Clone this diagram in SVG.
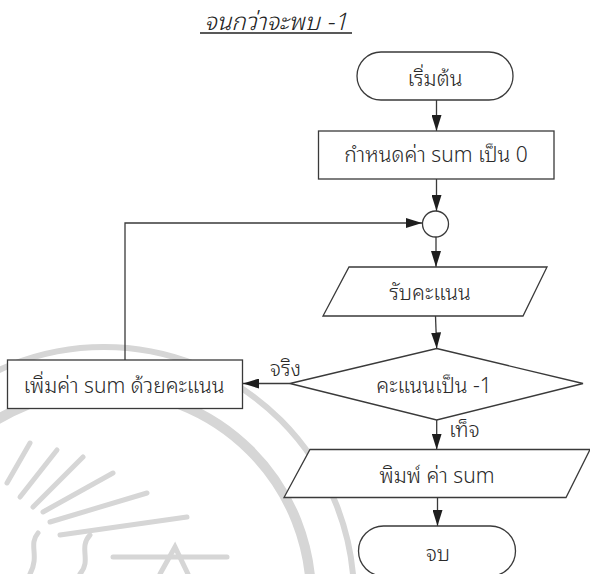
<svg xmlns="http://www.w3.org/2000/svg" width="590" height="574" viewBox="0 0 590 574">
  <style>
    .shape { fill: #ffffff; stroke: #3a3a3a; stroke-width: 1.3; }
    .edge { fill: none; stroke: #3a3a3a; stroke-width: 1.3; }
    .lbl { font-family: 'Noto Sans Thai Looped', 'Noto Sans Thai', 'Noto Sans', sans-serif; font-size: 21px; font-weight: 300; fill: #2a2a2a; text-anchor: middle; }
    .side { text-anchor: start; }
    .title { font-family: 'Noto Sans Thai Looped', 'Noto Sans Thai', 'Noto Sans', sans-serif; font-size: 24px; font-weight: 300; font-style: italic; fill: #222; text-anchor: middle; }
    .wm { fill: none; stroke: #d6d6d6; stroke-linecap: round; }
  </style>
  <defs>
    <marker id="arrow" viewBox="0 0 16 10" refX="16" refY="5" markerWidth="16" markerHeight="10" markerUnits="userSpaceOnUse" orient="auto">
      <path d="M0,0 L16,5 L0,10 z" fill="#1e1e1e"/>
    </marker>
  </defs>

  <rect width="590" height="574" fill="#ffffff"/>

  <!-- faint background seal: two rings and a sunburst -->
  <g id="watermark">
    <circle class="wm" stroke-width="6" cx="104" cy="597" r="250"/>
    <circle class="wm" stroke-width="10" cx="104" cy="597" r="207"/>
    <g stroke-width="5" class="wm">
      <path d="M7,483 L30,443"/>
      <path d="M20,497 L57,450"/>
      <path d="M33,507 L83,457"/>
      <path d="M43,512 L113,473"/>
      <path d="M50,522 L147,493"/>
      <path d="M60,535 L187,517"/>
      <path d="M113,557 L227,557"/>
      <path d="M160,574 L175,547 L188,574"/>
      <path d="M30,574 C40,555 28,545 38,533"/>
      <path d="M80,574 C92,560 78,548 90,535"/>
    </g>
  </g>

  <!-- heading with its underline -->
  <text class="title" x="276" y="30">จนกว่าจะพบ -1</text>
  <line x1="200" y1="33" x2="352" y2="33" stroke="#222" stroke-width="1.4"/>

  <g id="connectors">
    <line class="edge" x1="436.5" y1="100" x2="436.5" y2="131" marker-end="url(#arrow)"/>
    <line class="edge" x1="436.5" y1="179" x2="436.5" y2="211" marker-end="url(#arrow)"/>
    <line class="edge" x1="436" y1="237" x2="436" y2="267" marker-end="url(#arrow)"/>
    <polyline class="edge" points="125,360 125,223 422,223" marker-end="url(#arrow)"/>
    <line class="edge" x1="435.5" y1="316" x2="436.7" y2="348.5" marker-end="url(#arrow)"/>
    <line class="edge" x1="290" y1="383.5" x2="243" y2="383.5" marker-end="url(#arrow)"/>
    <line class="edge" x1="436.7" y1="420" x2="436.7" y2="449.5" marker-end="url(#arrow)"/>
    <line class="edge" x1="437.5" y1="497.5" x2="437.5" y2="526" marker-end="url(#arrow)"/>
    <text class="lbl side" x="270" y="376">จริง</text>
    <text class="lbl side" x="449" y="437">เท็จ</text>
  </g>

  <g id="start">
    <rect class="shape" x="357" y="52" width="156" height="48" rx="24" ry="24"/>
    <text class="lbl" x="435" y="86">เริ่มต้น</text>
  </g>

  <g id="init">
    <rect class="shape" x="318.5" y="131" width="235.5" height="48"/>
    <text class="lbl" x="436" y="162">กำหนดค่า sum เป็น 0</text>
  </g>

  <g id="join">
    <circle class="shape" cx="435.5" cy="224" r="13"/>
  </g>

  <g id="input">
    <polygon class="shape" points="349,267 547,267 523,316 323,316"/>
    <text class="lbl" x="430" y="300">รับคะแนน</text>
  </g>

  <g id="decision">
    <polygon class="shape" points="436.7,348.5 583,383.5 436.7,420 290,383.5"/>
    <text class="lbl" x="434" y="393">คะแนนเป็น -1</text>
  </g>

  <g id="accumulate">
    <rect class="shape" x="7.5" y="360" width="235" height="48.5"/>
    <text class="lbl" x="124" y="393">เพิ่มค่า sum ด้วยคะแนน</text>
  </g>

  <g id="output">
    <polygon class="shape" points="310,449.5 590,449.5 566,497.5 284,497.5"/>
    <text class="lbl" x="437" y="483">พิมพ์ ค่า sum</text>
  </g>

  <g id="end">
    <rect class="shape" x="358.5" y="526" width="157" height="50" rx="25" ry="25"/>
    <text class="lbl" x="438" y="561">จบ</text>
  </g>
</svg>
